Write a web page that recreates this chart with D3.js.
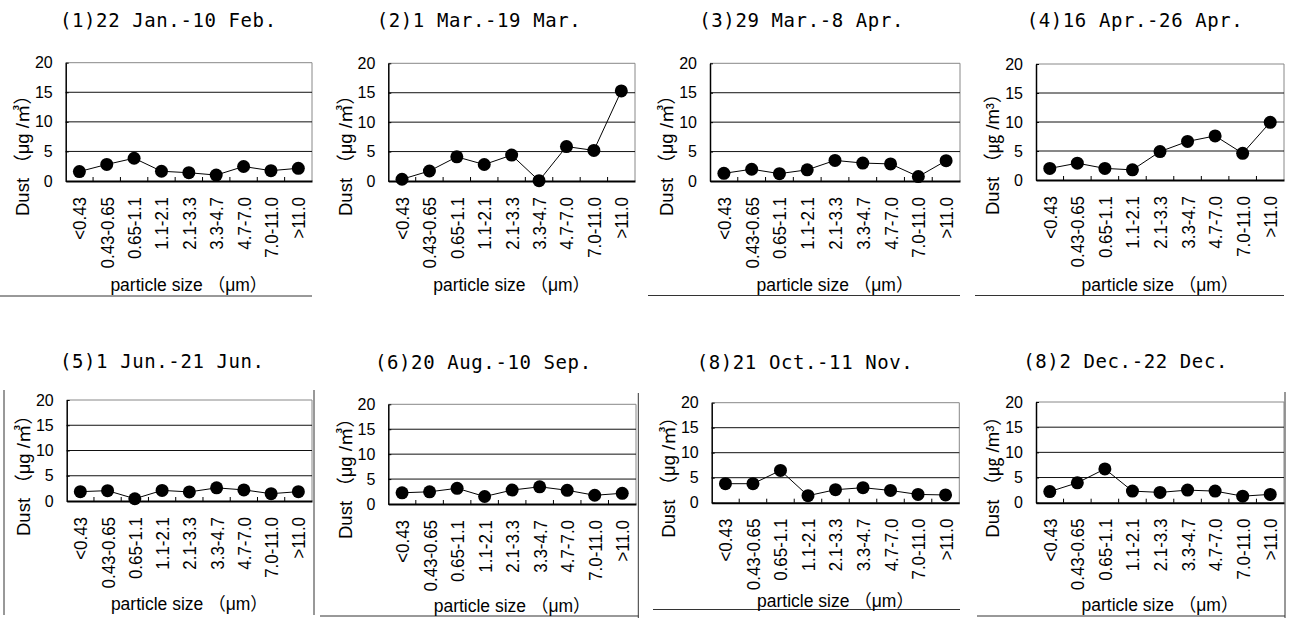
<!DOCTYPE html>
<html><head><meta charset="utf-8">
<script src="https://cdn.jsdelivr.net/npm/d3@7"></script>
<style>body{margin:0;background:#fff} svg{display:block}</style>
</head><body>
<svg id="chart" width="1289" height="622"></svg>
<script>
// ---------- data ----------
const categories = ["<0.43","0.43-0.65","0.65-1.1","1.1-2.1","2.1-3.3","3.3-4.7","4.7-7.0","7.0-11.0",">11.0"];
const panelTitles = ["(1)22 Jan.-10 Feb.","(2)1 Mar.-19 Mar.","(3)29 Mar.-8 Apr.","(4)16 Apr.-26 Apr.",
                     "(5)1 Jun.-21 Jun.","(6)20 Aug.-10 Sep.","(8)21 Oct.-11 Nov.","(8)2 Dec.-22 Dec."];
const yTickValues = [0,5,10,15,20];
const yTitles = ["Dust （μg /㎥）","Dust （μg /㎥）","Dust （μg /㎥）","Dust （㎍ /m³）",
                 "Dust （μg /㎥）","Dust （μg /㎥）","Dust （μg /㎥）","Dust （㎍ /m³）"];
const xTitle = "particle size （μm）";

const dustJanFeb = [1.6, 2.8, 3.85, 1.65, 1.4, 1.0, 2.45, 1.75, 2.15];
const dustMar    = [0.3, 1.7, 4.1, 2.8, 4.4, 0.05, 5.85, 5.2, 15.3];
const dustMarApr = [1.3, 2.0, 1.25, 1.9, 3.5, 3.05, 2.9, 0.75, 3.45];
const dustApr    = [2.0, 2.9, 2.0, 1.75, 4.9, 6.65, 7.6, 4.6, 9.95];
const dustJun    = [1.85, 2.05, 0.45, 2.1, 1.8, 2.6, 2.2, 1.45, 1.85];
const dustAugSep = [2.25, 2.45, 3.15, 1.5, 2.8, 3.45, 2.75, 1.75, 2.15];
const dustOctNov = [3.8, 3.8, 6.45, 1.4, 2.6, 3.0, 2.45, 1.65, 1.55];
const dustDec    = [2.2, 3.95, 6.7, 2.3, 2.05, 2.5, 2.3, 1.3, 1.65];
const seriesList = [dustJanFeb, dustMar, dustMarApr, dustApr, dustJun, dustAugSep, dustOctNov, dustDec];

// ---------- layout (positions only) ----------
const layout = [
  {l:65.7, r:312, t:62.7, b:181, tx:60,    ty:27,  xt:110},
  {l:388.3,r:635, t:63.3, b:181, tx:376.7, ty:27,  xt:110},
  {l:710,  r:960, t:63.3, b:181, tx:699.3, ty:27,  xt:110},
  {l:1036, r:1284,t:64,   b:180, tx:1026.7,ty:27,  xt:111},
  {l:66.7, r:312, t:400,  b:501, tx:60,    ty:368, xt:109},
  {l:388.3,r:636, t:404.3,b:504, tx:375,   ty:369, xt:108},
  {l:711.7,r:959.3,t:402.7,b:502.7,tx:696.7,ty:369, xt:104},
  {l:1036, r:1284,t:402,  b:502.7,tx:1023.3,ty:368, xt:108}
];
const frameSegments = [
  [0,296,312,296],
  [648,295.5,960,295.5],
  [975,295.5,1284,295.5],
  [4,390,4,615],[314,390,314,615],
  [638.3,393,638.3,618],[320,616,638.3,616],
  [653,609.5,960,609.5],
  [1285,392,1285,618],[977,616,1285,616]
];

const svg = d3.select("#chart");
const sansFont = "'Liberation Sans', Arial, 'Noto Sans CJK JP', sans-serif";

svg.append("g").selectAll("line").data(frameSegments).join("line")
  .attr("x1",d=>d[0]).attr("y1",d=>d[1]).attr("x2",d=>d[2]).attr("y2",d=>d[3])
  .attr("stroke","#333").attr("stroke-width",1);

layout.forEach((p, i) => {
  const data = seriesList[i];
  const g = svg.append("g");
  const x = d3.scalePoint().domain(categories).range([p.l, p.r]).padding(0.5);
  const y = d3.scaleLinear().domain([0, 20]).range([p.b, p.t]);
  const step = x.step();

  // title
  g.append("text").attr("x", p.tx).attr("y", p.ty)
    .attr("font-family","'DejaVu Sans Mono', monospace").attr("font-size",19)
    .attr("letter-spacing","0.6px").attr("fill","#000").text(panelTitles[i]);

  // plot frame (gray) top and right
  g.append("line").attr("x1",p.l).attr("x2",p.r).attr("y1",y(20)).attr("y2",y(20)).attr("stroke","#888");
  g.append("line").attr("x1",p.r).attr("x2",p.r).attr("y1",y(20)).attr("y2",y(0)).attr("stroke","#888");
  // gridlines
  g.append("g").selectAll("line").data(yTickValues.filter(v => v > 0 && v < 20)).join("line")
    .attr("x1",p.l).attr("x2",p.r).attr("y1",d=>y(d)).attr("y2",d=>y(d))
    .attr("stroke","#111").attr("stroke-width",1);

  // y axis
  const ya = g.append("g").attr("transform",`translate(${p.l},0)`)
    .call(d3.axisLeft(y).tickValues(yTickValues).tickSizeInner(-3).tickSizeOuter(0).tickPadding(13));
  ya.select(".domain").attr("stroke","#000").attr("stroke-width",1.5);
  ya.selectAll(".tick line").attr("stroke","#000");
  ya.selectAll("text").attr("font-family",sansFont).attr("font-size",16).attr("fill","#000");

  // x axis
  const xa = g.append("g").attr("transform",`translate(0,${p.b})`)
    .call(d3.axisBottom(x).tickSizeInner(0).tickSizeOuter(0));
  xa.select(".domain").attr("stroke","#000").attr("stroke-width",2);
  xa.selectAll("text")
    .attr("font-family",sansFont).attr("font-size",18).attr("fill","#000")
    .attr("transform","rotate(-90)").attr("x",-16).attr("y",0).attr("dy","0.36em")
    .style("text-anchor","end")
    .each(function(){
      const len = this.getComputedTextLength();
      if (len > 0) { this.setAttribute("textLength", len*0.94); this.setAttribute("lengthAdjust","spacingAndGlyphs"); }
    });
  // boundary tick marks (inside)
  g.append("g").selectAll("line").data(categories.slice(1)).join("line")
    .attr("x1",d=>x(d)-step/2).attr("x2",d=>x(d)-step/2)
    .attr("y1",p.b).attr("y2",p.b-4).attr("stroke","#000");

  // line + markers
  const line = d3.line().x((d,k)=>x(categories[k])).y(d=>y(d));
  g.append("path").datum(data).attr("d",line).attr("fill","none").attr("stroke","#000").attr("stroke-width",1);
  g.append("g").selectAll("circle").data(data).join("circle")
    .attr("cx",(d,k)=>x(categories[k])).attr("cy",d=>y(d)).attr("r",6.5).attr("fill","#000");

  // axis titles
  g.append("text").attr("transform",`translate(${p.l-43},${p.b+35}) rotate(-90)`)
    .attr("dy","0.35em").attr("font-family",sansFont).attr("font-size",18.5).attr("fill","#000")
    .style("text-anchor","start").text(yTitles[i]);
  g.append("text").attr("x",(p.l+p.r)/2).attr("y",p.b+p.xt)
    .attr("font-family",sansFont).attr("font-size",17.5).attr("fill","#000")
    .style("text-anchor","middle").text(xTitle);
});
</script>
</body></html>
